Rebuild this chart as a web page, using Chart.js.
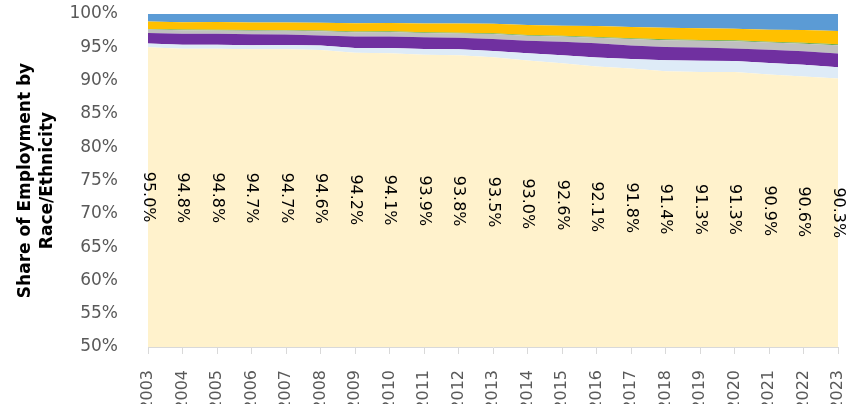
<!DOCTYPE html>
<html>
<head>
<meta charset="utf-8">
<script src="https://cdn.jsdelivr.net/npm/chart.js@4.4.1/dist/chart.umd.min.js"></script>
<style>
  html, body { margin: 0; padding: 0; background: #fff; }
  #wrap { width: 854px; height: 404px; }
</style>
</head>
<body>
<div id="wrap"><canvas id="shareChart" width="854" height="404"></canvas></div>
<script>
const years = ['2003', '2004', '2005', '2006', '2007', '2008', '2009', '2010', '2011', '2012', '2013',
    '2014', '2015', '2016', '2017', '2018', '2019', '2020', '2021', '2022', '2023'];

// stacked bottom to top
const whiteShare = [95.0, 94.8, 94.8, 94.7, 94.7, 94.6, 94.2, 94.1, 93.9, 93.8, 93.5,
    93.0, 92.6, 92.1, 91.8, 91.4, 91.3, 91.3, 90.9, 90.6, 90.3];
const lightBlueShare = [0.57, 0.58, 0.60, 0.62, 0.65, 0.68, 0.69, 0.78, 0.84, 0.90, 0.96,
    1.10, 1.21, 1.37, 1.45, 1.64, 1.68, 1.66, 1.76, 1.78, 1.72];
const purpleShare = [1.57, 1.65, 1.62, 1.65, 1.56, 1.51, 1.74, 1.76, 1.77, 1.73, 1.78,
    1.90, 2.01, 2.13, 2.01, 2.02, 1.99, 1.86, 1.98, 2.04, 2.06];
const grayShare = [0.52, 0.53, 0.52, 0.52, 0.56, 0.62, 0.63, 0.67, 0.63, 0.66, 0.75,
    0.73, 0.79, 0.83, 0.97, 1.00, 1.00, 1.08, 1.07, 1.12, 1.22];
const greenShare = [0.10, 0.10, 0.10, 0.10, 0.10, 0.11, 0.11, 0.11, 0.11, 0.11, 0.12,
    0.12, 0.12, 0.13, 0.13, 0.14, 0.14, 0.14, 0.14, 0.15, 0.15];
const goldShare = [1.10, 1.12, 1.15, 1.15, 1.16, 1.17, 1.24, 1.22, 1.33, 1.38, 1.42,
    1.50, 1.51, 1.62, 1.70, 1.74, 1.74, 1.76, 1.80, 1.89, 2.01];
const blueShare = [1.14, 1.22, 1.21, 1.26, 1.27, 1.31, 1.39, 1.36, 1.42, 1.42, 1.47,
    1.65, 1.76, 1.82, 1.94, 2.06, 2.15, 2.20, 2.35, 2.42, 2.54];

const yTicks = [50, 55, 60, 65, 70, 75, 80, 85, 90, 95, 100];

const tickGray = '#595959';
const axisGray = '#D9D9D9';

function areaSet(label, values, color, fillTo) {
    return {
        label: label,
        data: values,
        backgroundColor: color,
        borderColor: 'rgba(0,0,0,0)',
        borderWidth: 0,
        pointRadius: 0,
        tension: 0,
        fill: fillTo,
    };
}

// labels for the bottom layer, rotated and centred in the visible part of it
const bottomLabels = {
    id: 'bottomLabels',
    afterDatasetsDraw(chart) {
        const ctx = chart.ctx;
        const xs = chart.scales.x;
        const ys = chart.scales.y;
        ctx.save();
        ctx.font = '16px "DejaVu Sans"';
        ctx.fillStyle = '#000';
        ctx.textAlign = 'center';
        ctx.textBaseline = 'middle';
        whiteShare.forEach((v, i) => {
            const x = xs.getPixelForValue(i);
            const y = ys.getPixelForValue((ys.min + v) / 2);
            ctx.save();
            ctx.translate(x, y);
            ctx.rotate(Math.PI / 2);
            ctx.fillText(v.toFixed(1) + '%', 0, 0);
            ctx.restore();
        });
        ctx.restore();
    }
};

function initChart() {
    const ctx = document.getElementById('shareChart').getContext('2d');
    new Chart(ctx, {
        type: 'line',
        data: {
            labels: years,
            datasets: [
                areaSet('White', whiteShare, '#FFF2CC', 'origin'),
                areaSet('Series 2', lightBlueShare, '#DEEBF7', '-1'),
                areaSet('Series 3', purpleShare, '#7030A0', '-1'),
                areaSet('Series 4', grayShare, '#BFBFBF', '-1'),
                areaSet('Series 5', greenShare, '#70AD47', '-1'),
                areaSet('Series 6', goldShare, '#FFC000', '-1'),
                areaSet('Series 7', blueShare, '#5B9BD5', '-1'),
            ]
        },
        options: {
            animation: false,
            responsive: false,
            layout: { padding: { top: 14, right: 16, left: 0, bottom: 0 } },
            plugins: {
                legend: { display: false },
                tooltip: { enabled: false }
            },
            scales: {
                x: {
                    offset: false,
                    grid: {
                        display: true,
                        drawOnChartArea: false,
                        drawTicks: true,
                        tickLength: 7,
                        color: axisGray
                    },
                    border: { display: true, color: axisGray },
                    ticks: {
                        color: tickGray,
                        font: { family: 'DejaVu Sans', size: 16 },
                        minRotation: 90,
                        maxRotation: 90,
                        autoSkip: false,
                        padding: 16
                    },
                    afterFit(scale) {
                        scale.height = 57;
                        scale.paddingLeft = 0;
                        scale.paddingRight = 0;
                    }
                },
                y: {
                    stacked: true,
                    min: 50,
                    max: 100,
                    grid: { display: false },
                    border: { display: false },
                    afterBuildTicks(scale) {
                        scale.ticks = yTicks.map(v => ({ value: v }));
                    },
                    ticks: {
                        color: tickGray,
                        font: { family: 'DejaVu Sans', size: 17 },
                        padding: 22,
                        callback: v => v + '%'
                    },
                    title: {
                        display: true,
                        text: ['Share of Employment by', 'Race/Ethnicity'],
                        color: '#000',
                        font: { family: 'DejaVu Sans', size: 17, weight: 'bold', lineHeight: 22 / 17 },
                        padding: { top: 15, bottom: 0 }
                    },
                    afterFit(scale) {
                        scale.width = 148;
                        scale.paddingTop = 0;
                        scale.paddingBottom = 0;
                    }
                }
            }
        },
        plugins: [bottomLabels]
    });
}

initChart();
</script>
</body>
</html>
